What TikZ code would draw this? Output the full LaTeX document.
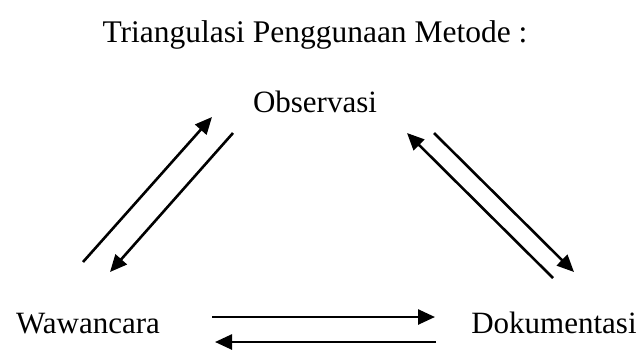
\documentclass[tikz,border=0pt]{standalone}
\usepackage{fontspec}
\setmainfont{Liberation Serif}
\usetikzlibrary{arrows.meta}
\begin{document}
\begin{tikzpicture}[x=1pt,y=-1pt,
  lbl/.style={inner sep=0pt, anchor=base, font=\fontsize{31}{36}\selectfont},
  arr/.style={line width=2.6pt, -{Triangle[length=17pt,width=15pt]}}]
\useasboundingbox (0,0) rectangle (642,349);
\node[lbl, font=\fontsize{31.5}{36}\selectfont] (title) at (315,42) {Triangulasi Penggunaan Metode :};
\node[lbl] (obs) at (315,112) {Observasi};
\node[lbl] (waw) at (88,333) {Wawancara};
\node[lbl] (dok) at (554,333) {Dokumentasi};
\coordinate (a1s) at (83,262); \coordinate (a1e) at (212,117);
\coordinate (a2s) at (233,133); \coordinate (a2e) at (110,272);
\coordinate (a3s) at (553,278); \coordinate (a3e) at (407,133);
\coordinate (a4s) at (434,133); \coordinate (a4e) at (574,272);
\coordinate (a5s) at (212,317); \coordinate (a5e) at (435,317);
\coordinate (a6s) at (436,342); \coordinate (a6e) at (215,342);
\draw[arr] (a1s) -- (a1e);
\draw[arr] (a2s) -- (a2e);
\draw[arr] (a3s) -- (a3e);
\draw[arr] (a4s) -- (a4e);
\draw[arr] (a5s) -- (a5e);
\draw[arr] (a6s) -- (a6e);
\end{tikzpicture}
\end{document}
